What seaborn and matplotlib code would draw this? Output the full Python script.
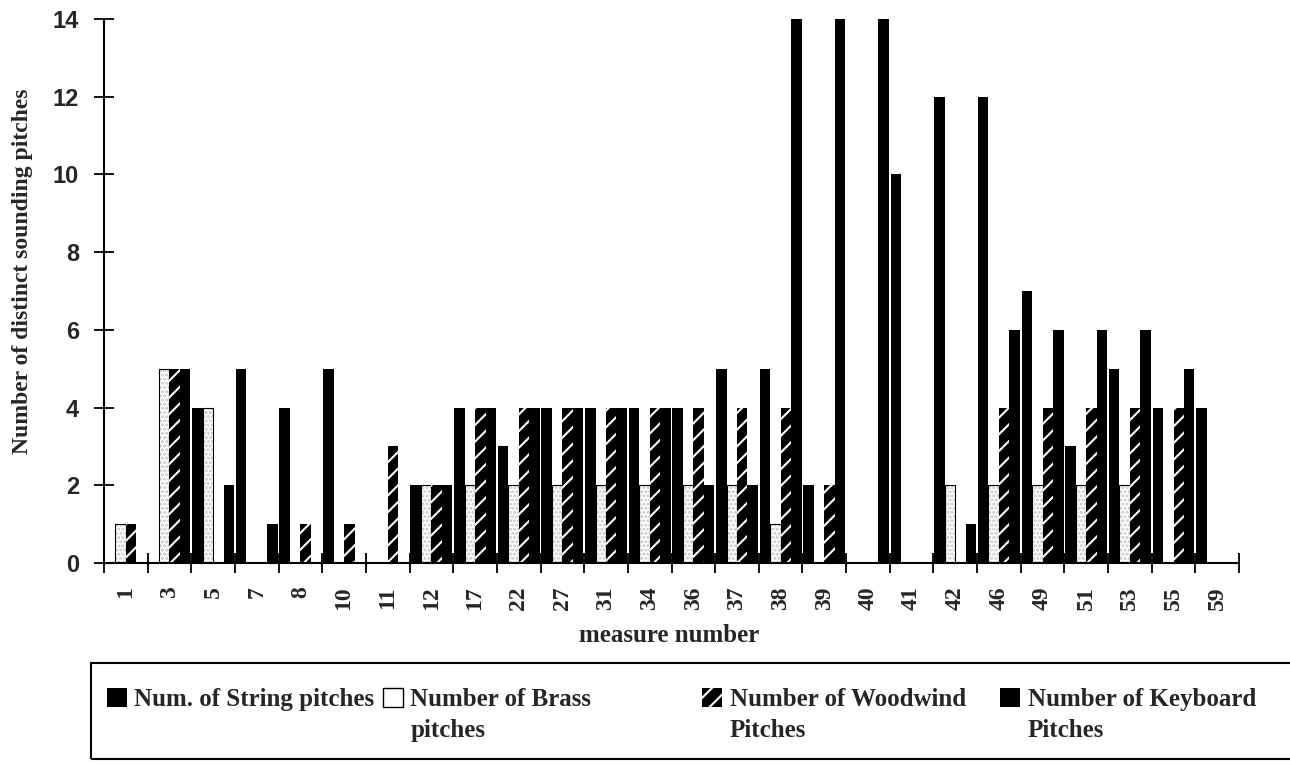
import numpy as np
import pandas as pd
import matplotlib
matplotlib.use("Agg")
import matplotlib.pyplot as plt
import seaborn as sns
from matplotlib.patches import Rectangle
from matplotlib.ticker import FixedLocator

# ---------------- data ----------------
measures = ['1', '3', '5', '7', '8', '10', '11', '12', '17', '22', '27', '31', '34',
            '36', '37', '38', '39', '40', '41', '42', '46', '49', '51', '53', '55', '59']
string_pitches   = [0, 0, 4, 5, 4, 5, 0, 2, 4, 3, 4, 4, 4, 4, 5, 5, 2, 0, 10, 12, 12, 7, 3, 5, 4, 4]
brass_pitches    = [1, 5, 4, 0, 0, 0, 0, 2, 2, 2, 2, 2, 2, 2, 2, 1, 0, 0, 0, 2, 2, 2, 2, 2, 0, 0]
woodwind_pitches = [1, 5, 0, 0, 1, 1, 3, 2, 4, 4, 4, 4, 4, 4, 4, 4, 2, 0, 0, 0, 4, 4, 4, 4, 4, 0]
keyboard_pitches = [0, 5, 2, 1, 0, 0, 0, 2, 4, 4, 4, 4, 4, 2, 2, 14, 14, 14, 0, 1, 6, 6, 6, 6, 5, 0]
series_labels = ["Num. of String pitches", "Number of Brass\npitches",
                 "Number of Woodwind\nPitches", "Number of Keyboard\nPitches"]
y_ticks = [0, 2, 4, 6, 8, 10, 12, 14]
x_title = "measure number"
y_title = "Number of distinct sounding pitches"

# ---------------- style ----------------
sns.set_theme(style="ticks")
plt.rcParams['font.family'] = ['Liberation Serif', 'DejaVu Serif']
plt.rcParams['hatch.linewidth'] = 1.5

rows = []
for lab, vals in zip(series_labels, [string_pitches, brass_pitches, woodwind_pitches, keyboard_pitches]):
    for m, v in zip(measures, vals):
        rows.append({"measure": m, "count": v, "series": lab})
df = pd.DataFrame(rows)

W, H = 1290, 764
fig = plt.figure(figsize=(W / 100, H / 100), dpi=100)
ax_left, ax_right, ax_top, ax_bottom = 104, 1239, 19, 563
ax = fig.add_axes([ax_left / W, 1 - ax_bottom / H, (ax_right - ax_left) / W, (ax_bottom - ax_top) / H])

sns.barplot(data=df, x="measure", y="count", hue="series", order=measures,
            hue_order=series_labels, palette=["black", "white", "black", "black"],
            width=0.96, gap=0, saturation=1, errorbar=None, legend=False,
            linewidth=0, ax=ax)

# style each series
for i, cont in enumerate(ax.containers):
    for p in cont:
        if i == 1:  # brass: white, faint stipple
            p.set_facecolor("white")
            p.set_edgecolor("black")
            p.set_linewidth(0.8)
            p.set_hatch("....")
            p._hatch_color = (0.78, 0.78, 0.78, 1.0)
        elif i == 2:  # woodwind: black with white diagonal
            p.set_facecolor("black")
            p.set_edgecolor("black")
            p.set_linewidth(0)
            p.set_hatch("//")
            p._hatch_color = (1, 1, 1, 1)
        else:
            p.set_facecolor("black")
            p.set_edgecolor("black")
            p.set_linewidth(0)

ax.set_xlim(-0.5, len(measures) - 0.5)
ax.set_ylim(0, 14)
ax.set_yticks(y_ticks)
ax.set_yticklabels([str(t) for t in y_ticks], family="Liberation Sans", fontweight="bold", fontsize=17)

ax.set_xticks(range(len(measures)))
ax.set_xticklabels(measures, rotation=90, fontweight="bold", fontsize=17)
ax.xaxis.set_minor_locator(FixedLocator(np.arange(-0.5, len(measures), 1.0)))
ax.tick_params(axis="x", which="major", length=0, pad=17)
ax.tick_params(axis="x", which="minor", direction="inout", length=14, width=1.3, color="black")
ax.tick_params(axis="y", which="major", direction="inout", length=14, width=1.3, color="black", pad=11)

for s in ["top", "right"]:
    ax.spines[s].set_visible(False)
for s in ["left", "bottom"]:
    ax.spines[s].set_color("black")
    ax.spines[s].set_linewidth(1.5)

ax.set_xlabel(x_title, fontsize=18, fontweight="bold")
ax.set_ylabel(y_title, fontsize=17, fontweight="bold")
ax.xaxis.set_label_coords(0.498, -0.112)
ax.yaxis.set_label_coords(-0.0626, 0.537)
ax.grid(False)

# ---------------- legend ----------------
fig.add_artist(Rectangle((91 / W, 1 - 759 / H), 1.2, (759 - 663) / H, transform=fig.transFigure,
                         fill=False, lw=1.5, ec="black", clip_on=False))

h_string = Rectangle((0, 0), 1, 1, fc="black", ec="black", lw=0)
h_brass = Rectangle((0, 0), 1, 1, fc="white", ec="black", lw=1.0)
h_wood = Rectangle((0, 0), 1, 1, fc="black", ec="black", lw=0, hatch="//")
h_wood._hatch_color = (1, 1, 1, 1)
h_key = Rectangle((0, 0), 1, 1, fc="black", ec="black", lw=0)
handles = [h_string, h_brass, h_wood, h_key]
leg_x = [107, 383, 702, 1000]
for h, lab, lx in zip(handles, series_labels, leg_x):
    leg = fig.legend(handles=[h], labels=[lab], loc="upper left",
                     bbox_to_anchor=(lx / W, 1 - 688 / H), bbox_transform=fig.transFigure,
                     frameon=False, borderpad=0, borderaxespad=0,
                     handlelength=0.8, handleheight=0.8, handletextpad=0.3,
                     prop=dict(family="Liberation Serif", weight="bold", size=18))
    for t in leg.get_texts():
        t.set_linespacing(1.45)
    for col in leg._legend_handle_box.get_children():
        for hp in col.get_children():
            hp.align = "top"
    for lh in leg.legend_handles:
        lh._hatch_color = h._hatch_color

fig.savefig("out.png", dpi=100, facecolor="white")
